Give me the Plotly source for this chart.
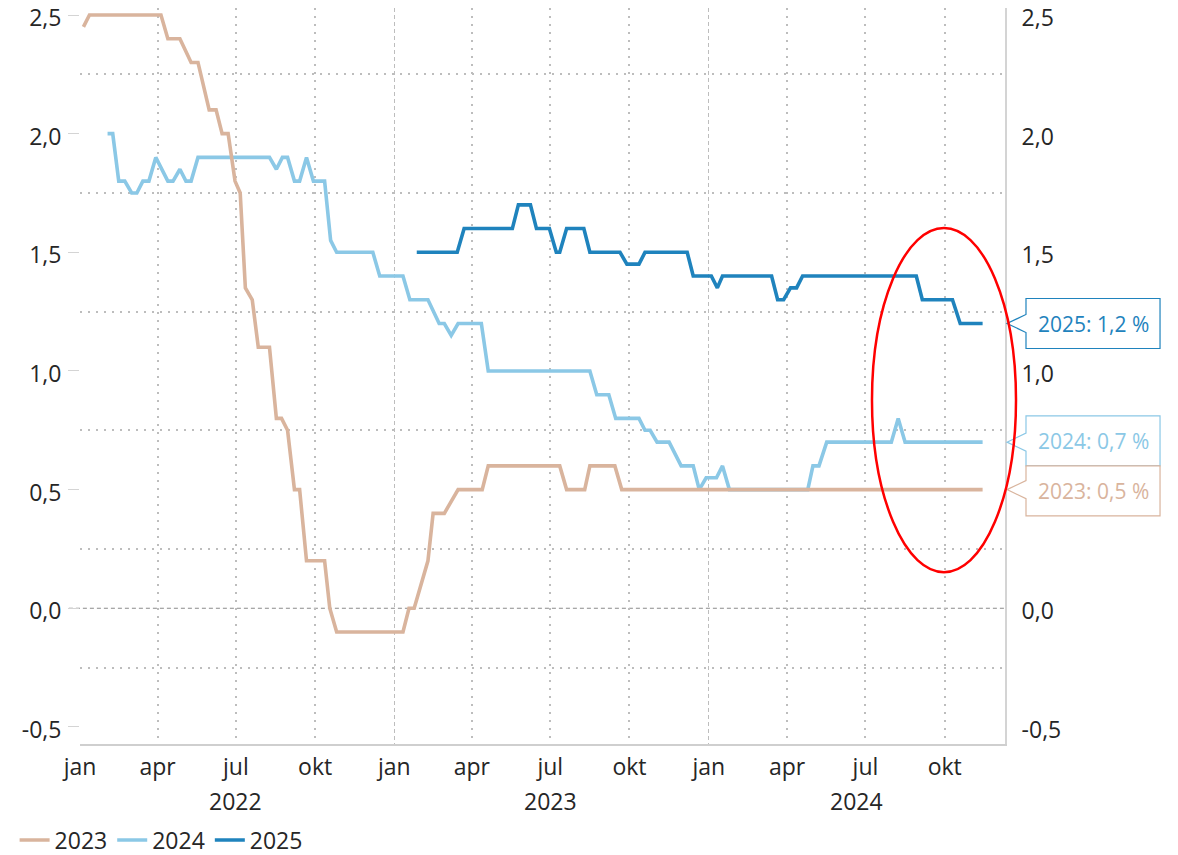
import plotly.graph_objects as go

TAN = '#d9b49d'
LIGHT = '#8bc8e6'
DARK = '#1f83bd'
GRID = '#bdbdbd'
TEXT = '#262626'
FONT = 'Open Sans'

# forecast for 2023
d2023 = ['2022-01-05', '2022-01-12', '2022-04-05', '2022-04-13', '2022-04-27', '2022-05-10',
         '2022-05-18', '2022-05-31', '2022-06-08', '2022-06-15', '2022-06-22', '2022-06-30',
         '2022-07-06', '2022-07-12', '2022-07-20', '2022-07-27', '2022-08-09', '2022-08-17',
         '2022-08-23', '2022-08-30', '2022-09-07', '2022-09-13', '2022-09-21', '2022-10-12',
         '2022-10-18', '2022-10-26', '2023-01-11', '2023-01-18', '2023-01-24', '2023-02-09',
         '2023-02-15', '2023-02-28', '2023-03-16', '2023-04-13', '2023-04-20', '2023-07-12',
         '2023-07-20', '2023-08-10', '2023-08-16', '2023-09-14', '2023-09-22', '2024-11-14']
v2023 = [2.45, 2.5, 2.5, 2.4, 2.4, 2.3,
         2.3, 2.1, 2.1, 2.0, 2.0, 1.8,
         1.75, 1.35, 1.3, 1.1, 1.1, 0.8,
         0.8, 0.75, 0.5, 0.5, 0.2, 0.2,
         0.0, -0.1, -0.1, 0.0, 0.0, 0.2,
         0.4, 0.4, 0.5, 0.5, 0.6, 0.6,
         0.5, 0.5, 0.6, 0.6, 0.5, 0.5]

# forecast for 2024
d2024 = ['2022-02-02', '2022-02-08', '2022-02-15', '2022-02-22', '2022-03-02', '2022-03-08',
         '2022-03-15', '2022-03-22', '2022-03-30', '2022-04-13', '2022-04-19', '2022-04-27',
         '2022-05-04', '2022-05-10', '2022-05-18', '2022-08-09', '2022-08-17', '2022-08-24',
         '2022-08-30', '2022-09-07', '2022-09-13', '2022-09-21', '2022-09-29', '2022-10-12',
         '2022-10-19', '2022-10-26', '2022-12-07', '2022-12-15', '2023-01-11', '2023-01-19',
         '2023-02-09', '2023-02-22', '2023-02-28', '2023-03-08', '2023-03-16', '2023-04-12',
         '2023-04-20', '2023-08-16', '2023-08-24', '2023-09-07', '2023-09-15', '2023-10-12',
         '2023-10-19', '2023-10-25', '2023-11-02', '2023-11-16', '2023-11-30', '2023-12-14',
         '2023-12-21', '2023-12-29', '2024-01-10', '2024-01-17', '2024-01-25', '2024-04-25',
         '2024-05-01', '2024-05-08', '2024-05-17', '2024-07-31', '2024-08-08', '2024-08-16',
         '2024-11-14']
v2024 = [2.0, 2.0, 1.8, 1.8, 1.75, 1.75,
         1.8, 1.8, 1.9, 1.8, 1.8, 1.85,
         1.8, 1.8, 1.9, 1.9, 1.85, 1.9,
         1.9, 1.8, 1.8, 1.9, 1.8, 1.8,
         1.55, 1.5, 1.5, 1.4, 1.4, 1.3,
         1.3, 1.2, 1.2, 1.15, 1.2, 1.2,
         1.0, 1.0, 0.9, 0.9, 0.8, 0.8,
         0.75, 0.75, 0.7, 0.7, 0.6, 0.6,
         0.5, 0.55, 0.55, 0.6, 0.5, 0.5,
         0.6, 0.6, 0.7, 0.7, 0.8, 0.7,
         0.7]

# forecast for 2025
d2025 = ['2023-01-27', '2023-03-15', '2023-03-23', '2023-05-18', '2023-05-25', '2023-06-08',
         '2023-06-15', '2023-06-30', '2023-07-08', '2023-07-12', '2023-07-20', '2023-08-09',
         '2023-08-16', '2023-09-20', '2023-09-28', '2023-10-12', '2023-10-19', '2023-12-07',
         '2023-12-14', '2024-01-04', '2024-01-11', '2024-01-17', '2024-03-14', '2024-03-21',
         '2024-03-28', '2024-04-05', '2024-04-12', '2024-04-19', '2024-08-29', '2024-09-05',
         '2024-10-10', '2024-10-19', '2024-11-14']
v2025 = [1.5, 1.5, 1.6, 1.6, 1.7, 1.7,
         1.6, 1.6, 1.5, 1.5, 1.6, 1.6,
         1.5, 1.5, 1.45, 1.45, 1.5, 1.5,
         1.4, 1.4, 1.35, 1.4, 1.4, 1.3,
         1.3, 1.35, 1.35, 1.4, 1.4, 1.3,
         1.3, 1.2, 1.2]

series = [('2023', d2023, v2023, TAN), ('2024', d2024, v2024, LIGHT), ('2025', d2025, v2025, DARK)]

quarters = ['2022-01-01', '2022-04-01', '2022-07-01', '2022-10-01',
            '2023-01-01', '2023-04-01', '2023-07-01', '2023-10-01',
            '2024-01-01', '2024-04-01', '2024-07-01', '2024-10-01']
quarter_text = ['jan', 'apr', 'jul', 'okt'] * 3
years = ['2022', '2023', '2024']
year_pos = ['2022-07-01', '2023-07-01', '2024-06-21']

yticks = [-0.5, 0.0, 0.5, 1.0, 1.5, 2.0, 2.5]
ytext = [f'{v:.1f}'.replace('.', ',') for v in yticks]
yminor = [-0.25, 0.25, 0.75, 1.25, 1.75, 2.25]

XRANGE = ['2022-01-01', '2024-12-10']
YRANGE = [-0.572, 2.5295]

fig = go.Figure()

# light blue underneath the tan line, like the original
for rank, (name, d, v, c) in [(2, series[1]), (1, series[0]), (3, series[2])]:
    fig.add_trace(go.Scatter(x=d, y=v, name=name, mode='lines', legendrank=rank,
                             line=dict(color=c, width=3.6)))

# empty trace so the right axis / january grid axis get drawn
fig.add_trace(go.Scatter(x=[], y=[], xaxis='x2', yaxis='y2', showlegend=False, hoverinfo='skip'))

axis_font = dict(family=FONT, size=23, color=TEXT)
jan = [q for q, t in zip(quarters, quarter_text) if t == 'jan']
other = [q for q, t in zip(quarters, quarter_text) if t != 'jan']

# callout positions (last value of each series, pushed apart so boxes don't overlap)
BOX_L, BOX_R, TIP = 1.0227, 1.1676, 1.0022
HALF = 0.1054
NOTCH = 0.038
last = sorted([(v[-1], name, c) for name, d, v, c in series], reverse=True)
centers = [val for val, _, _ in last]
for i in range(1, len(centers)):
    gap = centers[i - 1] - centers[i]
    if gap < 2 * HALF:
        push = (2 * HALF - gap) / 2
        centers[i - 1] += push
        centers[i] -= push

# right axis labels hidden behind a callout box are left out, as in the original
right_ticks = [t for t in yticks if all(abs(t - yc) > HALF for yc in centers)]
right_text = [f'{v:.1f}'.replace('.', ',') for v in right_ticks]

# the page adds an 8px body margin, so the figure is 8px smaller than the window
fig.update_layout(
    width=1170, height=847,
    margin=dict(l=72, r=173, t=0, b=111, autoexpand=False),
    paper_bgcolor='white', plot_bgcolor='white',
    font=axis_font,
    showlegend=True,
    legend=dict(orientation='h', x=-0.0707, xanchor='left', y=-0.1305, yanchor='middle',
                font=dict(family=FONT, size=23, color=TEXT), itemwidth=30,
                bgcolor='rgba(0,0,0,0)'),
    xaxis=dict(type='date', range=XRANGE, tickvals=quarters, ticktext=quarter_text,
               showgrid=False, ticks='', showline=True, linecolor='#cfcfcf', linewidth=1.5,
               zeroline=False, tickfont=axis_font, ticklabelstandoff=2, automargin=False,
               minor=dict(tickvals=other, showgrid=True, gridcolor=GRID, gridwidth=1.5,
                          griddash='2px,6px')),
    xaxis2=dict(type='date', range=XRANGE, overlaying='x', tickvals=jan, side='bottom',
                showticklabels=False, ticks='', showgrid=True, gridcolor=GRID, gridwidth=1.2,
                griddash='4px,3px', showline=False, zeroline=False, automargin=False),
    yaxis=dict(range=YRANGE, tickvals=yticks, ticktext=ytext, showgrid=False, zeroline=False,
               ticks='outside', ticklen=11, tickcolor='#d4d4d4', tickwidth=1, showline=False,
               tickfont=axis_font, ticklabelstandoff=2, automargin=False,
               ticklabeloverflow='allow', ticklabelshift=3,
               minor=dict(tickvals=yminor, showgrid=True, gridcolor=GRID, gridwidth=1.5,
                          griddash='2px,6px')),
    yaxis2=dict(range=YRANGE, overlaying='y', side='right', tickvals=right_ticks,
                ticktext=right_text, showgrid=False, zeroline=False, ticks='', showline=True,
                linecolor='#d4d4d4', linewidth=2, tickfont=axis_font, ticklabelstandoff=10,
                automargin=False, ticklabeloverflow='allow', ticklabelshift=3),
)

# dashed zero line
fig.add_shape(type='line', xref='paper', yref='y', x0=-0.012, x1=1, y0=0, y1=0,
              line=dict(color='#8a8a8a', width=1, dash='4px,3px'), layer='below')

# thin frame line at the right edge of the chart area
fig.add_shape(type='line', xref='paper', yref='paper', x0=1.186, x1=1.186, y0=-0.16, y1=1.02,
              line=dict(color='#e2e2e2', width=1.5))

# year labels under the month ticks
for yr, pos in zip(years, year_pos):
    fig.add_annotation(x=pos, xref='x', y=-0.0774, yref='paper', text=yr, showarrow=False,
                       font=axis_font, yanchor='middle', xanchor='center')

for (val, name, c), yc in zip(last, centers):
    path = (f'M {BOX_L},{yc + HALF} L {BOX_R},{yc + HALF} L {BOX_R},{yc - HALF} '
            f'L {BOX_L},{yc - HALF} L {BOX_L},{val - NOTCH} L {TIP},{val} L {BOX_L},{val + NOTCH} Z')
    fig.add_shape(type='path', path=path, xref='paper', yref='y',
                  line=dict(color=c, width=1.2), fillcolor='white', layer='above')
    fig.add_annotation(x=(BOX_L + BOX_R) / 2, xref='paper', y=yc, yref='y',
                       xanchor='center', yanchor='middle',
                       text=f'{name}: {val:.1f} %'.replace('.', ','), showarrow=False,
                       font=dict(family=FONT, size=21, color=c))

# red ellipse highlighting the latest moves
fig.add_shape(type='circle', xref='paper', yref='y', x0=0.8562, x1=1.0119, y0=0.152, y1=1.602,
              line=dict(color='#ff0000', width=2.5), layer='above')

fig.write_html('out.html')
